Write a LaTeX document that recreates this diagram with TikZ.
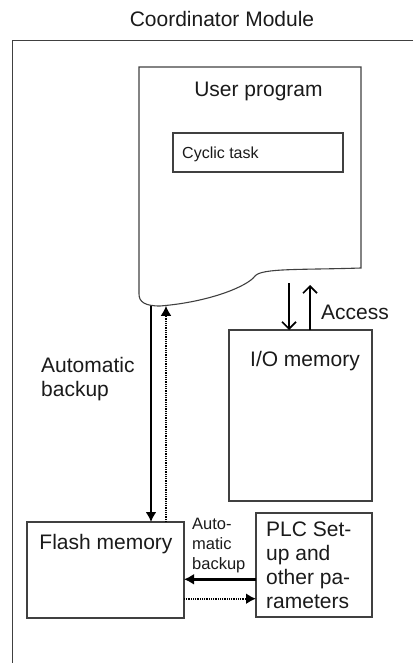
\documentclass[tikz,border=0pt]{standalone}
\usepackage{fontspec}
\setmainfont{Liberation Sans}
\usetikzlibrary{arrows.meta,calc}
\definecolor{boxline}{HTML}{404040}
\definecolor{txt}{HTML}{1A1A1A}
\begin{document}
\begin{tikzpicture}[x=1pt,y=-1pt,
  box/.style={draw=boxline,line width=1.1pt,inner sep=0pt,outer sep=0pt,anchor=north west},
  big/.style={font=\fontsize{21}{24}\selectfont,text=txt,inner sep=0pt},
  small/.style={font=\fontsize{16}{19}\selectfont,text=txt,inner sep=0pt},
  mid/.style={font=\fontsize{16.5}{20}\selectfont,text=txt,inner sep=0pt},
  solidarr/.style={draw=black,line width=2.4pt,-{Latex[length=10pt,width=11pt]}},
  dotarr/.style={draw=black,line width=2.2pt,dash pattern=on 1pt off 0.8pt,-{Latex[length=10pt,width=11pt]}},
  accarr/.style={draw=black,line width=1.7pt,-{Straight Barb[length=7pt,width=14pt]}}]
\useasboundingbox (0,0) rectangle (413,663);
% outer frame (extends beyond the picture)
\draw[boxline,line width=1.3pt] (413,40.7) -- (12.7,40.7) -- (12.7,663);
\node[big,anchor=base] (title) at (222,27) {Coordinator Module};
% user program sheet
\draw[boxline,line width=1.1pt] (139,67) -- (361,67) -- (361,268)
  .. controls (300,270) and (262,268) .. (255,276)
  .. controls (248,286) and (210,302) .. (160,306)
  .. controls (145,306) and (139,302) .. (139,294) -- cycle;
\node[big,anchor=base] (uptext) at (258.5,97) {User program};
\node[box,minimum width=170pt,minimum height=39pt] (cyclic) at (173,133) {};
\node[small,anchor=base west] (cyctext) at (182,158) {Cyclic task};
% I/O memory
\node[box,minimum width=143pt,minimum height=171pt] (io) at (229,330) {};
\node[big,anchor=base] (iotext) at (305,366) {I/O memory};
% Flash memory
\node[box,minimum width=157pt,minimum height=96pt] (flash) at (27,522) {};
\node[big,anchor=base] (flashtext) at (106,549.5) {Flash memory};
% PLC setup (base anchor = last line)
\node[box,minimum width=116pt,minimum height=104pt] (plc) at (256,513) {};
\node[big,anchor=base west,align=left] (plctext) at (266,608) {PLC Set-\\up and\\other pa-\\rameters};
% labels (base anchor = last line)
\node[big,anchor=base west,align=left] (autob) at (41,396) {Automatic\\backup};
\node[mid,anchor=base west,align=left] (autos) at (192,569) {Auto-\\matic\\backup};
\node[big,anchor=base west] (access) at (321,319) {Access};
% coordinates on the sheet bottom
\coordinate (upA) at (151,305.6);
\coordinate (upB) at (166,305.8);
\coordinate (accA) at (289,283);
\coordinate (accB) at (310,285);
% arrows
\draw[solidarr] (upA) -- (upA |- flash.north);
\draw[dotarr] (upB |- flash.north) -- (upB);
\draw[accarr] (accA) -- (accA |- io.north);
\draw[accarr] (accB |- io.north) -- (accB);
\coordinate (hA) at (0,579.3);
\coordinate (hB) at (0,598.7);
\draw[solidarr] (plc.west |- hA) -- (flash.east |- hA);
\draw[dotarr] (flash.east |- hB) -- (plc.west |- hB);
\end{tikzpicture}
\end{document}
